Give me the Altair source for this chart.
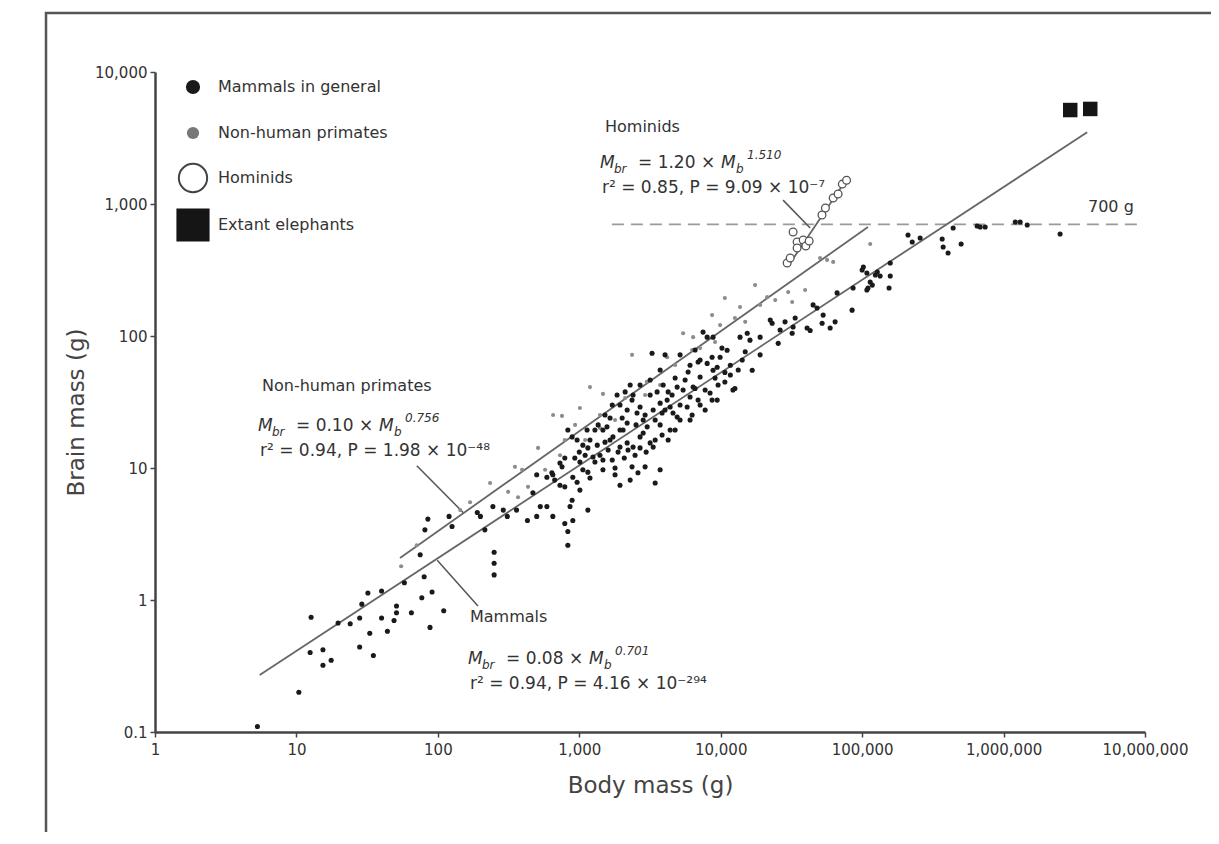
import altair as alt
import pandas as pd

FONT = "DejaVu Sans"

# ---------------- data ----------------
mammal_body = [5.3, 10.4, 12.5, 15.4, 15.4, 17.6, 12.7, 19.7, 24, 28, 29, 32, 40, 33, 28, 35, 40, 44, 49, 51,
               51, 58, 65, 75, 80, 77, 91, 88, 110, 85, 81, 120, 126, 250, 250, 250, 200, 215, 190, 245,
               290, 310, 360, 430, 470, 500, 590, 650, 530, 790, 830, 830, 900, 890, 860, 1150, 650, 670, 730, 730,
               790, 500, 590, 640, 790, 755, 900, 965, 1060, 1150, 1290, 1470, 1470, 1250, 1790, 1940, 2360, 2600, 2920, 3440,
               830, 890, 965, 1135, 1340, 1520, 1470, 1650, 1730, 1940, 2180, 2400, 2690, 2830, 3170, 3330, 2040, 2010, 2180, 2360,
               2560, 2690, 2830, 3020, 3330, 3730, 3850, 4180, 4390, 4600, 4920, 5420, 6070, 6380, 7150, 8020, 8830, 9900, 11100, 12200,
               9440, 5790, 4920, 2180, 1360, 1520, 1710, 1850, 2110, 2290, 1570, 1190, 1060, 1000, 930, 1010, 1100, 3170, 3550, 3920,
               4250, 5600, 3730, 4390, 6070, 7150, 7760, 9120, 3270, 4040, 5160, 6070, 6920, 8690, 9440, 10200, 11700, 10700, 12600, 8410,
               6590, 13700, 15400, 16100, 19000, 19000, 22400, 23100, 25500, 26300, 28500, 32000, 32500, 33600, 40800, 42900, 45000, 48000, 52100, 53000,
               59400, 64400, 66500, 84900, 86300, 110000, 114000, 100000, 102000, 128000, 134000, 155000, 158000, 158000, 211000, 226000, 257000, 368000, 374000, 405000,
               440000, 501000, 650000, 683000, 741000, 1210000, 1310000, 1470000, 2510000, 108000, 124000, 108000, 118000, 7500, 8020, 8830, 16700, 14900,
               1400, 1600, 1710, 1880, 2080, 2210, 2480, 2690, 2970, 3440, 3850, 4250, 4760, 5160, 6280, 6920, 7760, 8690, 9580, 10700,
               11700, 13300, 14200, 7150, 6590, 5880, 4760, 3730, 3170, 2690, 2400, 1940, 1650, 1290, 1150, 1940, 2520, 2920, 3440, 4040,
               4530, 5160, 1790, 2290, 3730, 1190, 1010]
mammal_brain = [0.11, 0.20, 0.40, 0.42, 0.32, 0.35, 0.74, 0.67, 0.66, 0.73, 0.93, 1.13, 1.17, 0.56, 0.44, 0.38, 0.73, 0.58, 0.70, 0.80,
                0.90, 1.35, 0.80, 2.2, 1.5, 1.04, 1.15, 0.62, 0.83, 4.1, 3.4, 4.3, 3.6, 2.3, 1.9, 1.55, 4.3, 3.4, 4.6, 5.1,
                4.8, 4.3, 4.8, 4.0, 6.5, 4.3, 5.1, 4.3, 5.1, 3.8, 3.3, 2.6, 4.0, 5.7, 5.1, 4.8, 8.9, 8.1, 10.9, 7.4,
                7.2, 8.9, 8.5, 9.2, 11.9, 10.2, 8.5, 7.8, 9.7, 9.3, 11.1, 11.5, 9.7, 12.1, 10, 7.4, 10.2, 9.2, 10.2, 7.7,
                19.4, 17.2, 16.3, 19.4, 14.9, 15.7, 19.4, 16.3, 17.2, 14.4, 15.5, 14.4, 17.2, 18.4, 15.5, 14.4, 19.4, 23.9, 27.5, 32.7,
                26.1, 29, 23.1, 20.5, 27.5, 31, 26.1, 32.7, 29, 26.1, 41, 39, 34.5, 41, 48.9, 62, 55, 69, 78, 39,
                32.7, 29, 24.3, 21.9, 21.2, 25.2, 30, 35.7, 37.7, 42.5, 20.5, 16.3, 14.9, 13.2, 11.9, 11.1, 12.5, 35.7, 37.7, 42.5,
                37.7, 46.4, 21.2, 19.4, 23.1, 30, 39, 48, 74, 72, 72, 60, 63.5, 69, 58, 81, 60, 53, 40, 37,
                40, 98, 105, 93, 98, 72, 132, 125, 88, 111, 128, 105, 117, 137, 115, 110, 172, 163, 125, 144,
                115, 128, 212, 157, 231, 231, 256, 316, 333, 305, 285, 231, 357, 285, 582, 515, 552, 543, 472, 425,
                658, 498, 681, 670, 670, 731, 731, 693, 593, 300, 290, 223, 243, 107, 98, 98, 55, 76,
                12.5, 13.7, 11.5, 13.2, 11.9, 13.7, 12.5, 14.2, 13.2, 16.3, 17.8, 16.3, 19.4, 23.1, 25.2, 32.7, 27.5, 32.7, 42.5, 44.8,
                50.7, 55.2, 65.8, 65.8, 78.3, 53.4, 48.1, 55.2, 46.4, 42.5, 35.7, 30, 23.9, 19.4, 14.2, 19.4, 21.2, 25.2, 23.1, 27.5,
                35.7, 30, 8.9, 8.1, 9.7, 8.4, 6.8]

primate_body = [55, 71, 234, 314, 369, 351, 394, 511, 653, 755, 1190, 1470, 2360, 4180, 5420, 6380, 8690, 10700, 13700, 21300,
                24300, 30000, 32000, 50400, 56500, 62400, 114000, 144, 169, 573, 731, 1100, 1400, 1790, 2920, 3730, 7150, 9120, 14900, 39500,
                17500, 1010, 434, 2110, 3000, 4760, 6280, 9900, 12600, 19000, 1400, 934, 790]
primate_brain = [1.8, 2.6, 7.7, 6.6, 6.0, 10.2, 9.7, 14.2, 25.2, 24.8, 41, 36.4, 72, 69, 105, 98, 144, 194, 166, 197,
                 187, 215, 181, 390, 377, 364, 498, 4.8, 5.5, 9.7, 12.5, 16.3, 20.1, 23.1, 35.7, 42.5, 81, 90, 128, 223,
                 243, 28.5, 7.2, 33.9, 45, 60.3, 78.3, 121, 137, 172, 25.2, 21.2, 16.3]

hominid_body = [29500, 32500, 34700, 38300, 40000, 34700, 42200, 52000, 55000, 62400, 67600, 72400, 77600, 31000]
hominid_brain = [357, 614, 515, 534, 481, 464, 524, 826, 933, 1110, 1190, 1415, 1515, 390]

elephant_body = [2960000, 4100000]
elephant_brain = [5150, 5250]

# fitted lines, leader lines and the 700 g reference, end points
fit_id = ["mammals", "mammals", "primates", "primates", "hominids", "hominids"]
fit_body = [5.5, 3900000, 54, 110000, 30000, 77000]
fit_brain = [0.27, 3500, 2.08, 670, 339, 1520]

leader_id = ["hominids", "hominids", "primates", "primates", "mammals", "mammals"]
leader_body = [27600, 42900, 71, 151, 99, 192]
leader_brain = [1070, 658, 10.4, 4.6, 2.0, 0.90]

ref_body = [1700, 9200000]
ref_brain = [700, 700]

x_ticks = [1, 10, 100, 1000, 10000, 100000, 1000000, 10000000]
y_ticks = [0.1, 1, 10, 100, 1000, 10000]

legend_labels = ["Mammals in general", "Non-human primates", "Hominids", "Extant elephants"]
group_titles = ["Hominids", "Non-human primates", "Mammals"]
hominid_formula = ["M", "br", "= 1.20 \u00d7", "M", "b", "1.510", "r\u00b2 = 0.85, P = 9.09 \u00d7 10\u207b\u2077"]
primate_formula = ["M", "br", "= 0.10 \u00d7", "M", "b", "0.756", "r\u00b2 = 0.94, P = 1.98 \u00d7 10\u207b\u2074\u2078"]
mammal_formula = ["M", "br", "= 0.08 \u00d7", "M", "b", "0.701", "r\u00b2 = 0.94, P = 4.16 \u00d7 10\u207b\u00b2\u2079\u2074"]
ref_label = "700 g"

# ---------------- scales / encodings ----------------
xs = alt.Scale(type="log", domain=[1, 1e7], nice=False)
ys = alt.Scale(type="log", domain=[0.1, 1e4], nice=False)

X = alt.X("body:Q", scale=xs, axis=alt.Axis(
    values=x_ticks, labelExpr="format(datum.value, ',')", grid=False,
    tickSize=5, tickColor="#444", tickWidth=1.5, domainColor="#444", domainWidth=2.5,
    labelFontSize=15, labelColor="#333", labelPadding=5, labelFlush=False, labelOverlap=False,
    title="Body mass (g)", titleFontSize=23, titleFontWeight="normal", titleColor="#444",
    titleY=42, titleBaseline="top"))
Y = alt.Y("brain:Q", scale=ys, axis=alt.Axis(
    values=y_ticks, labelExpr="format(datum.value, ',')", grid=False,
    tickSize=5, tickColor="#444", tickWidth=1.5, domainColor="#444", domainWidth=2.5,
    labelFontSize=15, labelColor="#333", labelPadding=3, labelFlush=False, labelOverlap=False,
    title="Brain mass (g)", titleFontSize=23, titleFontWeight="normal", titleColor="#444",
    titleX=-67, titleY=340))

df_m = pd.DataFrame({"body": mammal_body, "brain": mammal_brain})
df_p = pd.DataFrame({"body": primate_body, "brain": primate_brain})
df_h = pd.DataFrame({"body": hominid_body, "brain": hominid_brain})
df_e = pd.DataFrame({"body": elephant_body, "brain": elephant_brain})
df_fit = pd.DataFrame({"id": fit_id, "body": fit_body, "brain": fit_brain})
df_lead = pd.DataFrame({"id": leader_id, "body": leader_body, "brain": leader_brain})
df_ref = pd.DataFrame({"body": ref_body, "brain": ref_brain})

layers = []

# outer frame of the figure
frame = alt.Chart(pd.DataFrame({"k": [0]})).mark_rect(
    fill="transparent", stroke="#555", strokeWidth=2.5).encode(
    x=alt.value(-109), x2=alt.value(1100), y=alt.value(-59), y2=alt.value(800))
layers.append(frame)

layers.append(alt.Chart(df_ref).mark_line(color="#9a9a9a", strokeWidth=1.8, strokeDash=[12, 7]).encode(x=X, y=Y))
layers.append(alt.Chart(df_fit).mark_line(color="#666", strokeWidth=1.8).encode(x=X, y=Y, detail="id:N"))
layers.append(alt.Chart(df_lead).mark_line(color="#555", strokeWidth=1.5).encode(x=X, y=Y, detail="id:N"))
layers.append(alt.Chart(df_p).mark_circle(size=17, color="#8c8c8c", opacity=1).encode(x=X, y=Y))
layers.append(alt.Chart(df_m).mark_circle(size=26, color="#1a1a1a", opacity=1).encode(x=X, y=Y))
layers.append(alt.Chart(df_h).mark_circle(size=60, fill="white", stroke="#555", strokeWidth=1.3, opacity=1).encode(x=X, y=Y))
layers.append(alt.Chart(df_e).mark_square(size=210, color="#151515", opacity=1).encode(x=X, y=Y))


def txt(s, x, y, size=16, style="normal", color="#333", align="left"):
    return alt.Chart(pd.DataFrame({"t": [s]})).mark_text(
        align=align, baseline="middle", font=FONT, fontSize=size, fontStyle=style, color=color
    ).encode(x=alt.value(x), y=alt.value(y), text="t:N")


def formula(p, x0, y0):
    return [
        txt(p[0], x0, y0, 17, "italic"),
        txt(p[1], x0 + 14, y0 + 6, 12, "italic"),
        txt(p[2], x0 + 38, y0, 17),
        txt(p[3], x0 + 121, y0, 17, "italic"),
        txt(p[4], x0 + 136, y0 + 6, 12, "italic"),
        txt(p[5], x0 + 147, y0 - 8, 12, "italic"),
        txt(p[6], x0 + 2, y0 + 25, 17),
    ]


# annotations
layers.append(txt(group_titles[0], 450, 55, 16))
layers += formula(hominid_formula, 445, 91)
layers.append(txt(group_titles[1], 107, 314, 16))
layers += formula(primate_formula, 103, 354)
layers.append(txt(group_titles[2], 315, 545, 16))
layers += formula(mammal_formula, 313, 587)
layers.append(txt(ref_label, 933, 135, 16))

# legend (top-left, inside the plot)
leg_y = [15, 61, 106, 153]
one = pd.DataFrame({"k": [0]})
layers.append(alt.Chart(one).mark_circle(size=200, color="#1a1a1a", opacity=1).encode(x=alt.value(38), y=alt.value(leg_y[0])))
layers.append(alt.Chart(one).mark_circle(size=150, color="#777", opacity=1).encode(x=alt.value(38), y=alt.value(leg_y[1])))
layers.append(alt.Chart(one).mark_circle(size=800, fill="white", stroke="#444", strokeWidth=2, opacity=1).encode(x=alt.value(38), y=alt.value(leg_y[2])))
layers.append(alt.Chart(one).mark_square(size=1100, color="#151515", opacity=1).encode(x=alt.value(38), y=alt.value(leg_y[3])))
for lab, yy in zip(legend_labels, leg_y):
    layers.append(txt(lab, 63, yy, 16))

chart = alt.layer(*layers).properties(
    width=990, height=660,
    padding={"left": 147, "top": 64, "right": 66, "bottom": 100},
    autosize=alt.AutoSizeParams(type="none"),
    background="white",
).configure_view(stroke=None).configure_axis(labelFont=FONT, titleFont=FONT)

chart.save("out.html", embed_options={"renderer": "svg", "actions": False})
